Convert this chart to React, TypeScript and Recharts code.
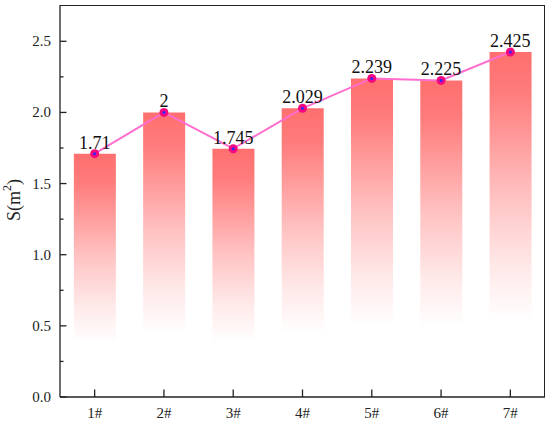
import { ComposedChart, Bar, Line, XAxis, YAxis, LabelList } from "recharts";

const categories = ["1#", "2#", "3#", "4#", "5#", "6#", "7#"];
const areas = [1.71, 2, 1.745, 2.029, 2.239, 2.225, 2.425];
const yTicks = [0, 0.25, 0.5, 0.75, 1, 1.25, 1.5, 1.75, 2, 2.25, 2.5];
const yMax = 2.755;

const data = categories.map((name, i) => ({ name, s: areas[i] }));

const FONT = "Liberation Serif";
const INK = "#222";

// chart layout
const W = 550;
const H = 423;
const M = { top: 5, right: 5, bottom: 0, left: 0 };
const Y_AXIS_W = 60;
const X_AXIS_H = 26;

function YTick({ x, y, payload }: any) {
  const v = payload.value;
  const major = Math.abs(v * 2 - Math.round(v * 2)) < 1e-6;
  const ax = x + 9;
  return (
    <g>
      <line x1={ax} x2={ax + (major ? 6.5 : 3.5)} y1={y} y2={y} stroke={INK} strokeWidth={1.3} />
      {major && (
        <text x={x} y={y} dy={5} textAnchor="end" fontFamily={FONT} fontSize={15} fill={INK}>
          {v.toFixed(1)}
        </text>
      )}
    </g>
  );
}

function XTick({ x, y, payload }: any) {
  return (
    <g>
      <line x1={x} x2={x} y1={y} y2={y - 7.5} stroke={INK} strokeWidth={1.3} />
      <text x={x} y={y + 21} textAnchor="middle" fontFamily={FONT} fontSize={15} fill={INK}>
        {payload.value}
      </text>
    </g>
  );
}

function YLabel() {
  const cx = 14;
  const cy = 200;
  return (
    <text
      x={cx}
      y={cy}
      transform={`rotate(-90, ${cx}, ${cy})`}
      textAnchor="middle"
      dominantBaseline="central"
      fontFamily={FONT}
      fontSize={18}
      fill={INK}
    >
      S(m<tspan dy={-7} fontSize={12}>2</tspan>
      <tspan dy={7}>)</tspan>
    </text>
  );
}

function Dot({ cx, cy }: any) {
  if (cx == null || cy == null) return null;
  return (
    <g>
      <circle cx={cx} cy={cy} r={4.5} fill="#f5087f" />
      <circle cx={cx} cy={cy} r={1.5} fill="#2a2aff" />
    </g>
  );
}

export default function App() {
  // top and right edges of the plot frame, laid over the chart
  const frame = {
    position: "absolute" as const,
    left: M.left + Y_AXIS_W,
    top: M.top,
    width: W - M.left - M.right - Y_AXIS_W,
    height: H - M.top - M.bottom - X_AXIS_H,
    borderTop: `1.3px solid ${INK}`,
    borderRight: `1.3px solid ${INK}`,
    boxSizing: "border-box" as const,
    pointerEvents: "none" as const,
  };
  return (
    <div style={{ position: "absolute", left: 0, top: 0, width: W, height: H, background: "#fff" }}>
      <ComposedChart width={W} height={H} data={data} margin={M} barCategoryGap="20%">
        <defs>
          <linearGradient id="barGrad" x1="0" y1="0" x2="0" y2="1">
            <stop offset="0" stopColor="#ff6f6f" />
            <stop offset="0.12" stopColor="#ff7c7c" />
            <stop offset="0.42" stopColor="#ffc2c2" />
            <stop offset="0.62" stopColor="#ffe8e8" />
            <stop offset="0.78" stopColor="#ffffff" />
            <stop offset="1" stopColor="#ffffff" />
          </linearGradient>
        </defs>
        <XAxis
          dataKey="name"
          height={X_AXIS_H}
          tickSize={0}
          tickMargin={0}
          tickLine={false}
          axisLine={{ stroke: INK, strokeWidth: 1.3 }}
          tick={<XTick />}
          interval={0}
        />
        <YAxis
          width={Y_AXIS_W}
          domain={[0, yMax]}
          ticks={yTicks}
          interval={0}
          tickSize={0}
          tickMargin={9}
          tickLine={false}
          axisLine={{ stroke: INK, strokeWidth: 1.3 }}
          tick={<YTick />}
          label={{ content: () => <YLabel /> }}
        />
        <Bar dataKey="s" fill="url(#barGrad)" isAnimationActive={false} />
        <Line
          dataKey="s"
          stroke="#ff6ecf"
          strokeWidth={2}
          dot={<Dot />}
          activeDot={false}
          isAnimationActive={false}
        >
          <LabelList
            dataKey="s"
            position="top"
            offset={5}
            fontFamily={FONT}
            fontSize={18}
            fill="#111"
          />
        </Line>
      </ComposedChart>
      <div style={frame} />
    </div>
  );
}
